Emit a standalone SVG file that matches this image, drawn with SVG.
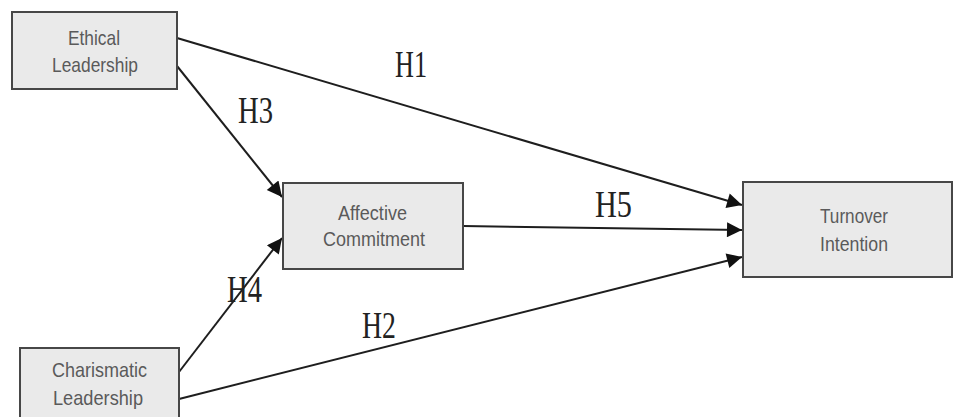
<svg xmlns="http://www.w3.org/2000/svg" width="953" height="417" viewBox="0 0 953 417">
  <style>
    .box { fill: #eaeaea; stroke: #474747; stroke-width: 2; }
    .lbl { font-family: "Liberation Sans", Arial, sans-serif; font-size: 21px; fill: #5a5a5a; }
    .hyp { font-family: "Liberation Serif", "Times New Roman", serif; font-size: 38px; fill: #222; }
    .edge { stroke: #1e1e1e; stroke-width: 2; fill: none; marker-end: url(#arrow); }
  </style>
  <defs>
    <marker id="arrow" viewBox="0 0 10 10" refX="10" refY="5" markerWidth="9.5" markerHeight="7.5" markerUnits="strokeWidth" orient="auto">
      <path d="M0,0 L10,5 L0,10 z" fill="#111"/>
    </marker>
  </defs>
  <rect width="953" height="417" fill="#ffffff"/>

  <g id="connectors">
    <line class="edge" x1="177" y1="38" x2="742" y2="205"/>
    <line class="edge" x1="177" y1="66" x2="282" y2="197"/>
    <line class="edge" x1="463" y1="226" x2="742" y2="230"/>
    <line class="edge" x1="179" y1="372" x2="282" y2="238"/>
    <line class="edge" x1="179" y1="399" x2="742" y2="257"/>
  </g>

  <g id="labels">
    <text class="hyp" x="395" y="77" textLength="32" lengthAdjust="spacingAndGlyphs">H1</text>
    <text class="hyp" x="238" y="123" textLength="35" lengthAdjust="spacingAndGlyphs">H3</text>
    <text class="hyp" x="595" y="217" textLength="37" lengthAdjust="spacingAndGlyphs">H5</text>
    <text class="hyp" x="227" y="302" textLength="35" lengthAdjust="spacingAndGlyphs">H4</text>
    <text class="hyp" x="362" y="338" textLength="34" lengthAdjust="spacingAndGlyphs">H2</text>
  </g>

  <g id="ethical">
    <rect class="box" x="12" y="12" width="165" height="77"/>
    <text class="lbl" x="68" y="45" textLength="52" lengthAdjust="spacingAndGlyphs">Ethical</text>
    <text class="lbl" x="52" y="72" textLength="86" lengthAdjust="spacingAndGlyphs">Leadership</text>
  </g>

  <g id="affective">
    <rect class="box" x="283" y="183" width="180" height="86"/>
    <text class="lbl" x="338" y="220" textLength="69" lengthAdjust="spacingAndGlyphs">Affective</text>
    <text class="lbl" x="323" y="246" textLength="102" lengthAdjust="spacingAndGlyphs">Commitment</text>
  </g>

  <g id="turnover">
    <rect class="box" x="743" y="182" width="209" height="95"/>
    <text class="lbl" x="820" y="223" textLength="68" lengthAdjust="spacingAndGlyphs">Turnover</text>
    <text class="lbl" x="820" y="251" textLength="68" lengthAdjust="spacingAndGlyphs">Intention</text>
  </g>

  <g id="charismatic">
    <rect class="box" x="20" y="348" width="159" height="80"/>
    <text class="lbl" x="52" y="377" textLength="95" lengthAdjust="spacingAndGlyphs">Charismatic</text>
    <text class="lbl" x="53" y="405" textLength="90" lengthAdjust="spacingAndGlyphs">Leadership</text>
  </g>
</svg>
